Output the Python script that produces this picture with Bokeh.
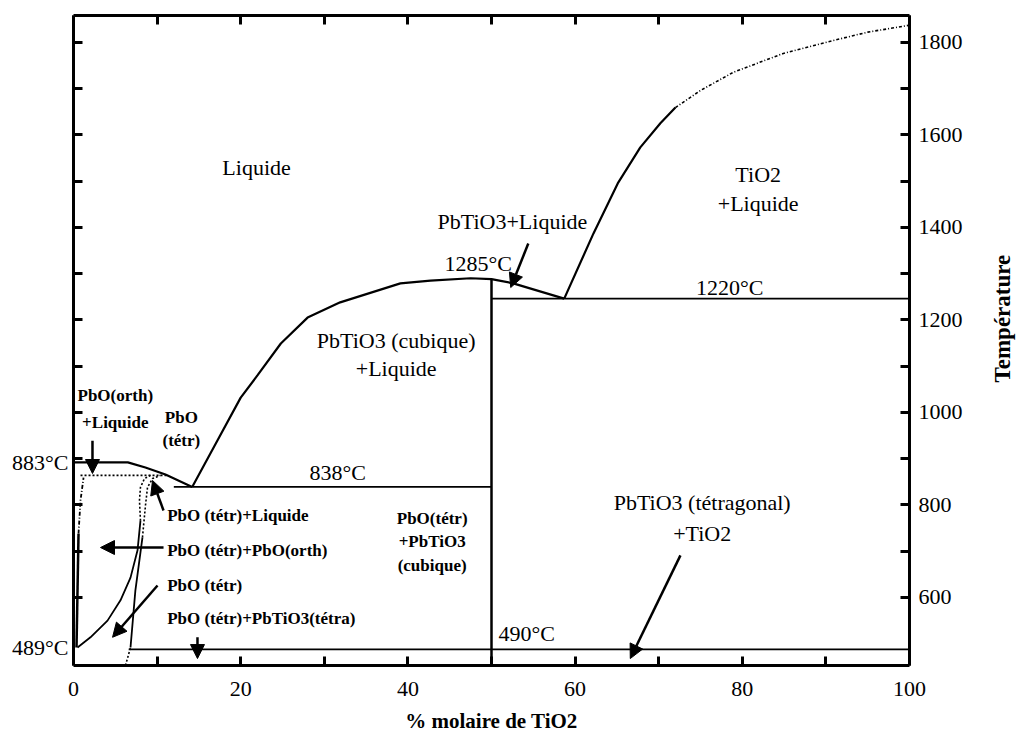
from bokeh.plotting import figure
from bokeh.layouts import row
from bokeh.models import Range1d, LinearAxis, FixedTicker, Label, Arrow, NormalHead
from bokeh.embed import file_html
from bokeh.resources import INLINE

FONT = "Liberation Serif"

# ---------------- data ----------------
x_major = [0, 20, 40, 60, 80, 100]
x_minor = [10, 30, 50, 70, 90]
x_all = [0, 10, 20, 30, 40, 50, 60, 70, 80, 90, 100]
y_major = [600, 800, 1000, 1200, 1400, 1600, 1800]
y_minor = [700, 900, 1100, 1300, 1500, 1700]
y_all = [600, 700, 800, 900, 1000, 1100, 1200, 1300, 1400, 1500, 1600, 1700, 1800]
left_ticks = [492, 892]
left_tick_labels = {492: "489°C", 892: "883°C"}

# liquidus PbO side (883 °C plateau down to eutectic 838 °C)
liq_pbo_x = [0, 6.5, 8.6, 11.0, 14.2]
liq_pbo_t = [892, 892, 881, 866, 839]
# liquidus PbTiO3 (eutectic -> congruent maximum 1285 °C -> eutectic 1220 °C)
liq_pt_x = [14.2, 17.2, 20.0, 22.0, 24.8, 28.0, 31.9, 39.1, 42.7, 47.5, 50.0, 52.6, 58.7]
liq_pt_t = [839, 939, 1032, 1080, 1149, 1205, 1238, 1279, 1285, 1290, 1288, 1279, 1246]
# liquidus TiO2 (solid part then dotted part)
liq_ti_x = [58.7, 62.2, 65.1, 67.8, 70.2, 72.0]
liq_ti_t = [1246, 1387, 1495, 1573, 1625, 1659]
liq_ti_dot_x = [72.0, 75.0, 78.9, 84.9, 90.9, 95.0, 100]
liq_ti_dot_t = [1659, 1696, 1735, 1776, 1804, 1822, 1837]

# invariant lines
eut1_x = [12.0, 50.0]
eut1_t = [839, 839]
eut2_x = [50.0, 100.0]
eut2_t = [1246, 1246]
eutd_x = [6.6, 100.0]
eutd_t = [488, 488]
comp_x = [50.0, 50.0]
comp_t = [453, 1288]

# PbO (tetr) region boundaries
solA_x = [0.48, 2.03, 4.07, 5.62, 6.82, 7.66, 8.01]
solA_t = [492, 514, 550, 594, 643, 702, 766]
solA_dot_x = [8.01, 7.89, 8.01, 8.49, 9.21]
solA_dot_t = [766, 810, 838, 857, 864]
solB_x = [6.82, 7.4, 8.25]
solB_t = [492, 615, 730]
solB_dot_low_x = [6.22, 6.82]
solB_dot_low_t = [453, 492]
solB_dot_x = [8.25, 8.61, 8.85, 9.45, 10.4]
solB_dot_t = [730, 799, 838, 857, 864]
hdot_x = [0.84, 11.2]
hdot_t = [864, 864]
axis_sol_x = [0.36, 0.6]
axis_sol_t = [492, 738]
axis_dd_x = [0.6, 0.84, 1.2]
axis_dd_t = [738, 810, 859]

# arrows: x_start, t_start, x_end, t_end
arrows_x0 = [2.27, 10.77, 10.77, 10.05, 14.83, 54.4, 72.6]
arrows_t0 = [939, 788, 708, 626, 514, 1365, 691]
arrows_x1 = [2.27, 9.45, 3.23, 4.67, 14.83, 52.3, 66.6]
arrows_t1 = [868, 853, 708, 514, 468, 1270, 468]

# labels
lab_text = ["Liquide", "PbTiO3+Liquide", "TiO2", "+Liquide", "1285°C", "1220°C",
            "PbTiO3 (cubique)", "+Liquide", "PbO(orth)", "+Liquide", "PbO", "(tétr)",
            "838°C",
            "PbO (tétr)+Liquide", "PbO (tétr)+PbO(orth)", "PbO (tétr)", "PbO (tétr)+PbTiO3(tétra)",
            "PbO(tétr)", "+PbTiO3", "(cubique)",
            "PbTiO3 (tétragonal)", "+TiO2", "490°C"]
lab_x = [21.9, 52.5, 81.9, 81.9, 48.4, 78.5,
         38.6, 38.6, 5.0, 5.0, 12.9, 12.9,
         31.6,
         11.2, 11.2, 11.2, 11.2,
         42.9, 42.9, 42.9,
         75.2, 75.2, 54.2]
lab_t = [1530, 1413, 1515, 1452, 1322, 1270,
         1156, 1095, 1037, 978, 989, 939,
         870,
         777, 702, 626, 555,
         771, 721, 669,
         805, 738, 522]
lab_align = ["center"] * 13 + ["left"] * 4 + ["center"] * 6
lab_size = ["22px"] * 8 + ["17px"] * 4 + ["22px"] + ["17px"] * 7 + ["22px"] * 3
lab_style = ["normal"] * 8 + ["bold"] * 4 + ["normal"] + ["bold"] * 7 + ["normal"] * 3

y_title = "Température"

# ---------------- figure ----------------
H = 742
p = figure(width=971, height=H, x_range=Range1d(0, 100), y_range=Range1d(453, 1858),
           output_backend="svg", toolbar_location=None, y_axis_location="right",
           min_border_left=73, min_border_top=15, min_border_bottom=77, min_border_right=62)
p.grid.visible = False
p.outline_line_color = None
p.background_fill_color = "white"
p.border_fill_color = "white"


def style(ax):
    ax.axis_line_width = 3
    ax.axis_line_color = "black"
    ax.major_tick_in = 9
    ax.major_tick_out = 0
    ax.minor_tick_in = 9
    ax.minor_tick_out = 0
    ax.major_tick_line_width = 3
    ax.minor_tick_line_width = 3
    ax.major_tick_line_color = "black"
    ax.minor_tick_line_color = "black"
    ax.major_label_text_font = FONT
    ax.major_label_text_font_size = "22px"
    ax.major_label_text_color = "black"


p.xaxis.ticker = FixedTicker(ticks=x_major, minor_ticks=x_minor)
p.yaxis.ticker = FixedTicker(ticks=y_major, minor_ticks=y_minor)
for ax in p.xaxis:
    style(ax)
    ax.major_label_standoff = 16
    ax.axis_label = "% molaire de TiO2"
    ax.axis_label_text_font = FONT
    ax.axis_label_text_font_style = "bold"
    ax.axis_label_text_font_size = "21px"
    ax.axis_label_text_color = "black"
    ax.axis_label_standoff = 10
for ax in p.yaxis:
    style(ax)
    ax.major_label_standoff = 9

top = LinearAxis(ticker=FixedTicker(ticks=[], minor_ticks=x_all))
style(top)
p.add_layout(top, "above")

left = LinearAxis(ticker=FixedTicker(ticks=left_ticks, minor_ticks=y_all),
                  major_label_overrides=left_tick_labels)
style(left)
left.major_tick_in = 0
left.major_label_standoff = 5
p.add_layout(left, "left")

K = "black"
p.line(liq_pbo_x, liq_pbo_t, line_color=K, line_width=2.2)
p.line(liq_pt_x, liq_pt_t, line_color=K, line_width=2.2)
p.line(liq_ti_x, liq_ti_t, line_color=K, line_width=2.2)
p.line(liq_ti_dot_x, liq_ti_dot_t, line_color=K, line_width=1.6, line_dash="3 2 1 2")
p.line(eut1_x, eut1_t, line_color=K, line_width=1.8)
p.line(eut2_x, eut2_t, line_color=K, line_width=1.8)
p.line(eutd_x, eutd_t, line_color=K, line_width=1.8)
p.line(comp_x, comp_t, line_color=K, line_width=2.5)
p.line(solA_x, solA_t, line_color=K, line_width=1.8)
p.line(solA_dot_x, solA_dot_t, line_color=K, line_width=1.6, line_dash="2 2")
p.line(solB_x, solB_t, line_color=K, line_width=1.8)
p.line(solB_dot_low_x, solB_dot_low_t, line_color=K, line_width=1.6, line_dash="2 2")
p.line(solB_dot_x, solB_dot_t, line_color=K, line_width=1.6, line_dash="2 2")
p.line(hdot_x, hdot_t, line_color=K, line_width=1.6, line_dash="2 2")
p.line(axis_sol_x, axis_sol_t, line_color=K, line_width=2.5)
p.line(axis_dd_x, axis_dd_t, line_color=K, line_width=1.8, line_dash="4 2 1 2")

for i in range(len(arrows_x0)):
    p.add_layout(Arrow(end=NormalHead(size=14, fill_color=K, line_color=K),
                       x_start=arrows_x0[i], y_start=arrows_t0[i],
                       x_end=arrows_x1[i], y_end=arrows_t1[i],
                       line_color=K, line_width=2.5))

for i in range(len(lab_text)):
    p.add_layout(Label(x=lab_x[i], y=lab_t[i], text=lab_text[i], text_font=FONT,
                       text_font_size=lab_size[i], text_font_style=lab_style[i],
                       text_align=lab_align[i], text_baseline="middle", text_color=K))

# narrow companion panel carrying the rotated y-axis title
W2 = 46
p2 = figure(width=W2, height=H, x_range=Range1d(0, W2), y_range=Range1d(0, H),
            output_backend="svg", toolbar_location=None,
            min_border_left=0, min_border_right=0, min_border_top=0, min_border_bottom=0)
p2.axis.visible = False
p2.grid.visible = False
p2.outline_line_color = None
p2.background_fill_color = "white"
p2.border_fill_color = "white"
p2.add_layout(Label(x=31, y=H - 346, text=y_title, text_font=FONT,
                    text_font_size="23px", text_font_style="bold", angle=90,
                    angle_units="deg", text_align="center", text_baseline="middle",
                    text_color=K))

layout = row(p, p2)
open("out.html", "w").write(file_html(layout, INLINE))
